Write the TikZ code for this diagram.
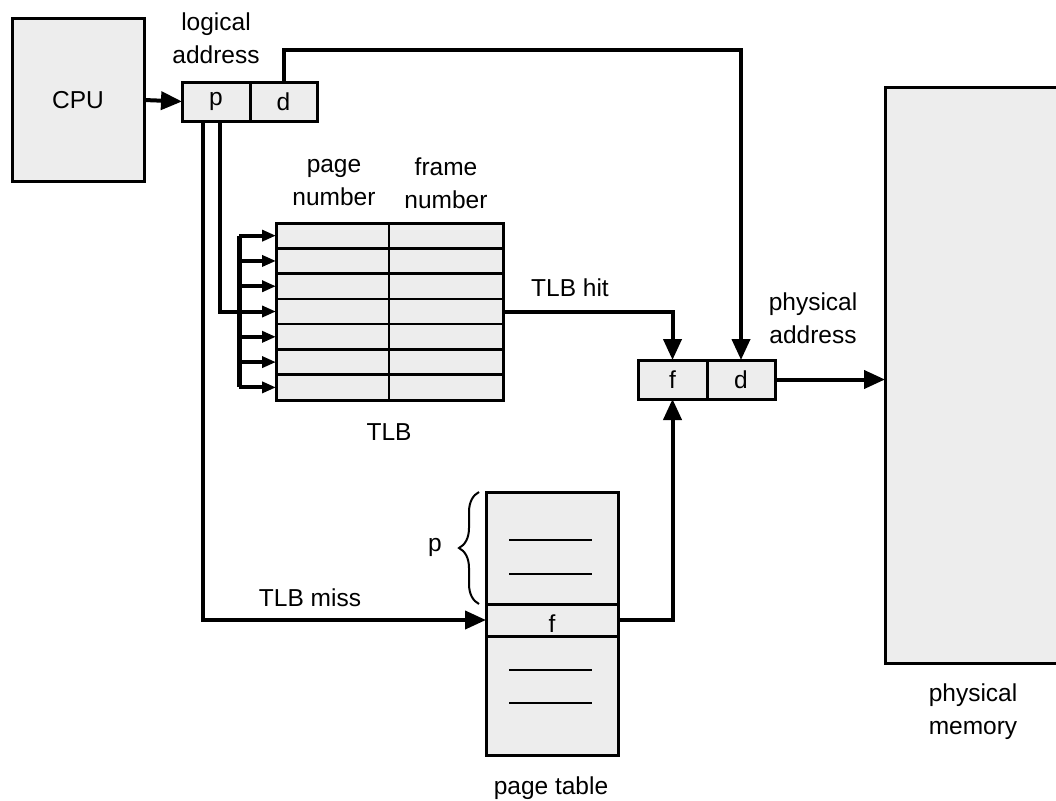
\documentclass[tikz,border=0pt]{standalone}
\usepackage{fontspec}
\setmainfont{Liberation Sans}
\usetikzlibrary{arrows.meta,decorations.pathreplacing}
\definecolor{boxgray}{HTML}{EDEDED}
\begin{document}
\begin{tikzpicture}[x=1pt,y=-1pt,
  every node/.style={inner sep=0pt,outer sep=0pt,font=\fontsize{24.5}{29}\selectfont},
  box/.style={draw=black,fill=boxgray,line width=3pt},
  cell/.style={draw=black,fill=boxgray,line width=2.5pt,minimum height=25.29pt},
  conn/.style={line width=4pt,-{Triangle[length=21pt,width=18pt]}},
  wire/.style={line width=4pt},
  busarrow/.style={line width=4pt,-{Triangle[length=14pt,width=11pt]}},
  lbl/.style={align=center}]
\useasboundingbox (0,0) rectangle (1056,800);
\clip (0,0) rectangle (1056,800);
% CPU
\node[box,minimum width=132pt,minimum height=162pt] (cpu) at (78,100) {CPU};
% logical address
\node[box,minimum width=68pt,minimum height=39pt] (lap) at (216,101.5) {\raisebox{-3pt}{p}};
\node[box,minimum width=67pt,minimum height=39pt] (lad) at (283.5,101.5) {\raisebox{-3pt}{d}};
\node[lbl] (latext) at (216,38) {logical\\[4pt]address};
% TLB
\foreach \i in {1,...,7}{
  \node[cell,minimum width=113pt] (ta\i) at (332.5,{223+(\i-0.5)*25.29}) {};
  \node[cell,minimum width=114pt] (tb\i) at (446,{223+(\i-0.5)*25.29}) {};
}
\draw[line width=3pt] (276,223) rectangle (503,400);
\node[lbl] (pnum) at (334,183) {page\\[4pt]number};
\node[lbl] (fnum) at (446,183) {frame\\[4pt]number};
\node (tlbl) at (389,432) {TLB};
% f d
\node[box,minimum width=69pt,minimum height=39pt] (fdf) at (672.5,379.5) {\raisebox{-2pt}{f}};
\node[box,minimum width=68pt,minimum height=39pt] (fdd) at (741,379.5) {\raisebox{-2pt}{d}};
\node[lbl] (patext) at (813,318) {physical\\[4pt]address};
% page table
\node[box,minimum width=132pt,minimum height=112pt] (pt1) at (552,548) {};
\node[box,minimum width=132pt,minimum height=32pt] (ptf) at (552,620) {};
\node[box,minimum width=132pt,minimum height=119pt] (pt2) at (552,695.5) {};
\node (ptfl) at (552,624) {f};
\foreach \yy in {540,574,670,703}{
  \draw[line width=2.5pt] (509,\yy) -- (592,\yy);
}
\node (ptlbl) at (551,788) {page table};
\draw[line width=2pt,decorate,decoration={brace,amplitude=20pt}] (479,604) -- (479,492);
\node (pbr) at (435,547) {p};
% physical memory
\node[box,minimum width=220pt,minimum height=576pt] (mem) at (995,375) {};
\node[lbl] (pmtext) at (973,712) {physical\\[4pt]memory};
% connectors
\draw[conn] (cpu.east) -- (lap.west);
\draw[conn] (lad.north) -- (lad.north |- 0,50) -| (fdd.north);
\coordinate (bus1) at (239,{223+0.5*25.29});
\coordinate (bus7) at (239,{223+6.5*25.29});
\draw[line width=5pt] (bus1) -- (bus7);
\foreach \i in {1,...,7}{
  \draw[busarrow] (239,{223+(\i-0.5)*25.29}) -- (ta\i.west);
}
\draw[wire] ([xshift=4pt]lap.south) |- (239,{223+3.5*25.29});
\draw[conn] ([xshift=-13pt]lap.south) |- (ptf.west);
\node (missl) at (310,598) {TLB miss};
\draw[conn] (tb4.east) -| (fdf.north);
\node (hitl) at (570,288) {TLB hit};
\draw[conn] (ptf.east) -| (fdf.south);
\draw[conn] (fdd.east) -- (mem.west |- fdd.east);
\end{tikzpicture}
\end{document}
